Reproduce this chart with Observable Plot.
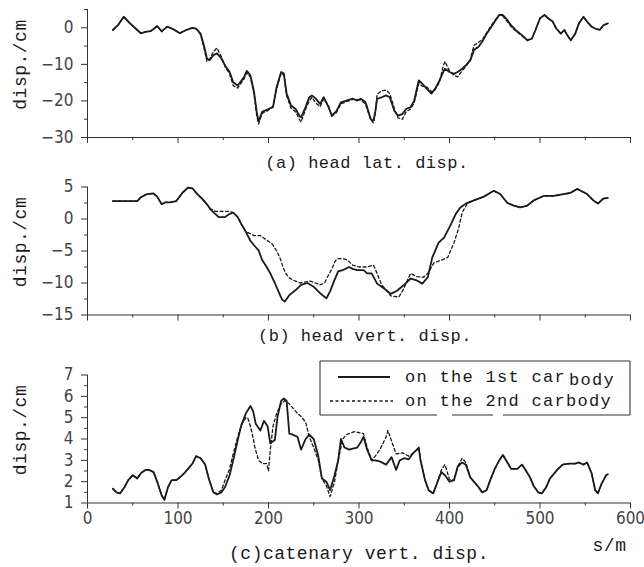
<!DOCTYPE html>
<html><head><meta charset="utf-8">
<script src="https://cdn.jsdelivr.net/npm/d3@7"></script>
<script src="https://cdn.jsdelivr.net/npm/@observablehq/plot@0.6"></script>
<style>
body{margin:0;background:#fff;}
#wrap{position:relative;width:644px;height:567px;overflow:hidden;background:#fff;}
#wrap > svg{position:absolute;left:0;}
[font-family*="Liberation Mono"]{letter-spacing:0.5px;}
</style></head><body><div id="wrap"></div>
<script>
// ---------- data ----------
const seriesNames = ["on the 1st carbody", "on the 2nd carbody"];
const captions = ["(a) head lat. disp.", "(b) head vert. disp.", "(c)catenary vert. disp."];
const yTitle = "disp./cm";
const xTitle = "s/m";
const xDomain = [0, 600];
const xMajor = [0, 100, 200, 300, 400, 500, 600];
const xMinor = [50, 150, 250, 350, 450, 550];

const aDomain = [-30, 5];
const aMajor = [-30, -20, -10, 0];
const aMinor = [-25, -15, -5, 5];
const bDomain = [-15, 5];
const bMajor = [-15, -10, -5, 0, 5];
const bMinor = [-12.5, -7.5, -2.5, 2.5];
const cDomain = [1, 7];
const cMajor = [1, 2, 3, 4, 5, 6, 7];
const cMinor = [1.5, 2.5, 3.5, 4.5, 5.5, 6.5];

// (a) head lateral displacement [s, cm]
const headLat1 = [[28,-0.6],[34,0.8],[40,3],[47,1.2],[55,-0.6],[59,-1.5],[64,-1.1],[70,-0.9],[77,0.5],[82,-1.0],[88,0.3],[95,-0.4],[102,-1.5],[109,-0.6],[116,0],[120,-0.2],[125,-1.6],[129,-5.2],[132,-8.4],[135,-8.9],[139,-7.5],[143,-7],[148,-8.4],[152,-10.3],[157,-12],[161,-14.9],[166,-15.8],[173,-13.5],[176,-11.8],[180,-13],[184,-17.5],[187,-23],[189,-25.6],[193,-23],[200,-22.2],[205,-21.7],[209,-16.2],[214,-12.1],[217,-12.5],[220,-18],[225,-21.3],[230,-22.2],[234,-24],[236,-24.5],[241,-21.7],[245,-19],[248,-18.5],[252,-19.3],[257,-20.8],[261,-19],[266,-21.5],[270,-24],[275,-22.8],[280,-20.4],[286,-19.9],[293,-19.4],[298,-19.9],[302,-19.4],[307,-20.3],[309,-21.7],[313,-25],[316,-25.4],[318,-23],[320,-19.4],[325,-19],[330,-18.5],[334,-19],[339,-22.7],[343,-24],[348,-23.6],[352,-22.2],[357,-21.7],[361,-19.9],[366,-14.4],[370,-15.3],[375,-16.7],[380,-18],[384,-16.7],[389,-14.4],[393,-12.1],[395,-11.2],[400,-12.1],[405,-12.6],[409,-12.1],[414,-11.2],[418,-10.3],[423,-8.9],[427,-6.1],[432,-5.2],[436,-3.9],[441,-1.6],[445,-0.2],[450,1.7],[455,3.5],[459,3.5],[464,2.1],[468,0.7],[473,-0.6],[480,-2],[486,-3.4],[491,-3],[495,-0.6],[500,2.6],[505,3.5],[509,2.6],[514,1.7],[518,-0.2],[523,-1.6],[527,-0.6],[530,-2],[534,-3.4],[539,-1.6],[543,1.2],[548,3],[552,1.7],[557,0.3],[561,-0.2],[566,-0.6],[570,0.7],[575,1.2]];
const headLat2 = [[28,-0.6],[34,0.8],[40,3],[47,1.2],[55,-0.6],[59,-1.5],[64,-1.1],[70,-0.9],[77,0.5],[82,-1.0],[88,0.3],[95,-0.4],[102,-1.5],[109,-0.6],[116,0],[120,-0.2],[125,-1.9],[129,-5.8],[132,-9.2],[135,-8.6],[139,-6.6],[143,-5.5],[148,-8.0],[152,-10.6],[157,-12.6],[161,-15.8],[166,-16.5],[173,-14.0],[176,-12.3],[180,-13.5],[184,-18.0],[187,-24.0],[189,-26.3],[193,-23.4],[200,-22.5],[205,-21.4],[209,-16.6],[214,-12.4],[217,-13.0],[220,-18.6],[225,-22.0],[230,-23.0],[234,-25.0],[236,-25.8],[241,-22.3],[245,-20.0],[248,-19.0],[252,-20.5],[257,-21.6],[261,-19.4],[266,-21.2],[270,-24.2],[275,-23.2],[280,-20.8],[286,-20.2],[293,-19.6],[298,-19.6],[302,-19.8],[307,-20.8],[309,-22.2],[313,-25.2],[316,-26.0],[318,-23.5],[320,-18.2],[325,-17.2],[330,-17.0],[334,-18.0],[339,-22.0],[343,-24.6],[348,-25.0],[352,-23.0],[357,-22.2],[361,-20.5],[366,-15.2],[370,-16.0],[375,-16.2],[380,-17.5],[384,-17.0],[389,-14.8],[393,-10.5],[395,-9.2],[400,-11.8],[405,-13.0],[409,-13.4],[414,-11.8],[418,-10.6],[423,-8.6],[427,-4.8],[432,-4.0],[436,-3.3],[441,-1.4],[445,0.2],[450,2.0],[455,3.6],[459,3.2],[464,1.6],[468,0.3],[473,-0.8],[480,-2.2],[486,-3.5],[491,-3],[495,-0.6],[500,2.6],[505,3.5],[509,2.6],[514,1.7],[518,-0.2],[523,-1.6],[527,-0.6],[530,-2],[534,-3.4],[539,-1.6],[543,1.2],[548,3],[552,1.7],[557,0.3],[561,-0.2],[566,-0.6],[570,0.7],[575,1.2]];

// (b) head vertical displacement [s, cm]
const headVert1 = [[28,2.8],[40,2.8],[55,2.8],[59,3.4],[66,3.9],[73,4.0],[77,3.5],[82,2.3],[86,2.6],[91,2.6],[98,2.8],[105,4.1],[111,4.9],[116,4.8],[120,4.1],[127,3.1],[132,2.3],[136,1.5],[141,0.8],[145,0.3],[152,0.3],[157,0.8],[161,1.0],[166,0.3],[170,-0.8],[175,-2],[180,-3.4],[184,-4.1],[189,-4.9],[193,-6.4],[198,-7.5],[202,-8.5],[207,-10],[211,-11.3],[215,-12.6],[218,-12.9],[223,-11.9],[230,-11.1],[236,-10.3],[243,-10],[250,-10.6],[257,-11.6],[264,-12.4],[268,-11.3],[273,-9.5],[277,-8.2],[282,-8.0],[289,-7.5],[293,-7.8],[298,-8],[305,-8],[309,-8.5],[314,-8.5],[320,-10.1],[325,-10.6],[330,-11.1],[335,-11.7],[342,-11.2],[349,-10.4],[357,-9.3],[364,-9.6],[370,-10.1],[376,-9.1],[381,-6],[388,-3.7],[394,-2.9],[401,-1.0],[407,0.8],[412,1.8],[418,2.4],[427,2.9],[438,3.5],[449,4.4],[456,3.9],[464,2.5],[471,2.1],[478,1.8],[486,2.1],[493,2.9],[504,3.6],[515,3.6],[523,3.8],[534,4.1],[541,4.7],[552,3.9],[559,2.9],[564,2.4],[570,3.2],[575,3.3]];
const headVert2 = [[28,2.8],[40,2.8],[55,2.8],[59,3.4],[66,3.9],[73,4.0],[77,3.5],[82,2.3],[86,2.6],[91,2.6],[98,2.8],[105,4.1],[111,4.9],[116,4.8],[120,4.1],[127,3.1],[132,2.3],[136,1.6],[141,1.2],[145,1.2],[152,1.2],[157,1.2],[161,1.0],[166,0.3],[170,-0.8],[175,-2.0],[180,-2.3],[184,-2.6],[191,-2.6],[198,-3.3],[204,-3.9],[209,-5.0],[213,-6.2],[216,-7.5],[219,-8.5],[223,-9.2],[228,-9.6],[235,-10],[246,-9.7],[252,-10.0],[257,-10.3],[262,-10.0],[265,-9.1],[270,-7.8],[274,-6.5],[277,-6.2],[282,-6.2],[287,-6.4],[293,-7.2],[300,-7.5],[309,-7.5],[316,-7.2],[320,-8.5],[325,-10.3],[330,-11.1],[335,-12.0],[344,-12.2],[349,-11.0],[357,-8.5],[364,-9.0],[371,-9.1],[376,-8.5],[383,-6.8],[390,-6.5],[398,-6.0],[405,-3.7],[410,-1.5],[414,1.0],[420,2.5],[427,2.9],[438,3.5],[449,4.4],[456,3.9],[464,2.5],[471,2.1],[478,1.8],[486,2.1],[493,2.9],[504,3.6],[515,3.6],[523,3.8],[534,4.1],[541,4.7],[552,3.9],[559,2.9],[564,2.4],[570,3.2],[575,3.3]];

// (c) catenary vertical displacement [s, cm]
const caten1 = [[28,1.67],[32,1.5],[36,1.45],[41,1.75],[45,2.07],[50,2.3],[55,2.15],[59,2.4],[64,2.55],[68,2.55],[73,2.45],[77,2.0],[82,1.35],[85,1.15],[89,1.75],[93,2.07],[98,2.07],[102,2.2],[107,2.4],[111,2.6],[116,2.85],[120,3.2],[125,3.1],[130,2.8],[134,2.15],[139,1.5],[143,1.4],[148,1.5],[152,1.75],[157,2.3],[161,3.0],[166,3.95],[170,4.65],[175,5.2],[180,5.55],[183,5.3],[186,4.7],[191,4.4],[195,4.85],[199,4.6],[202,3.8],[207,3.95],[210,5.05],[214,5.8],[217,5.9],[220,5.8],[223,4.25],[227,4.2],[232,4.1],[236,3.5],[241,4.0],[245,4.2],[250,4.0],[255,3.2],[259,2.15],[264,2.0],[268,1.6],[273,2.3],[277,3.0],[280,4.0],[284,3.6],[289,3.5],[293,3.55],[298,3.6],[302,3.85],[305,4.1],[309,3.5],[314,3.0],[318,3.0],[323,2.95],[330,2.8],[336,3.15],[341,2.55],[345,3.0],[350,3.1],[355,3.05],[359,3.3],[364,3.5],[366,3.6],[368,3.0],[373,2.07],[377,1.6],[382,1.45],[386,1.9],[391,2.45],[395,2.3],[400,2.0],[405,2.07],[409,2.7],[414,2.9],[418,2.8],[423,2.2],[427,2.0],[432,1.75],[436,1.5],[441,1.6],[445,2.07],[450,2.6],[455,3.0],[459,3.25],[464,2.9],[468,2.6],[475,2.6],[480,2.8],[484,2.55],[489,2.2],[493,1.8],[498,1.5],[502,1.45],[507,1.75],[511,2.15],[516,2.4],[520,2.6],[525,2.8],[532,2.85],[539,2.85],[543,2.9],[548,2.8],[552,2.9],[557,2.4],[561,1.6],[564,1.45],[568,1.9],[573,2.3],[575,2.35]];
const caten2 = [[28,1.67],[32,1.5],[36,1.45],[41,1.75],[45,2.07],[50,2.3],[55,2.15],[59,2.4],[64,2.55],[68,2.55],[73,2.45],[77,2.0],[82,1.35],[85,1.15],[89,1.75],[93,2.07],[98,2.07],[102,2.2],[107,2.4],[111,2.6],[116,2.85],[120,3.2],[125,3.1],[130,2.8],[134,2.15],[139,1.5],[143,1.45],[148,1.6],[152,2.07],[157,2.6],[161,3.3],[166,4.1],[170,4.65],[175,5.0],[177,5.0],[180,4.6],[182,4.25],[185,3.6],[189,3.0],[193,2.85],[198,2.85],[200,2.5],[202,3.5],[205,4.6],[209,5.2],[214,5.65],[218,5.8],[223,5.65],[227,5.45],[232,5.2],[236,5.05],[241,4.8],[245,4.1],[250,3.6],[255,3.0],[259,2.15],[264,1.8],[268,1.3],[273,2.0],[277,3.0],[282,4.0],[286,4.2],[295,4.35],[305,4.25],[309,3.6],[314,3.0],[318,3.2],[323,3.5],[330,4.1],[332,4.4],[336,3.9],[341,3.3],[348,3.35],[355,3.2],[359,3.3],[364,3.5],[366,3.6],[368,3.0],[373,2.07],[377,1.6],[382,1.45],[386,1.9],[391,2.55],[395,2.8],[400,2.1],[405,2.07],[409,2.7],[414,3.1],[418,2.9],[423,2.2],[427,2.0],[432,1.75],[436,1.5],[441,1.6],[445,2.07],[450,2.6],[455,3.0],[459,3.25],[464,2.9],[468,2.6],[475,2.6],[480,2.8],[484,2.55],[489,2.2],[493,1.8],[498,1.5],[502,1.45],[507,1.75],[511,2.15],[516,2.4],[520,2.6],[525,2.8],[532,2.85],[539,2.85],[543,2.9],[548,2.8],[552,2.9],[557,2.4],[561,1.6],[564,1.45],[568,1.9],[573,2.3],[575,2.35]];

// ---------- drawing ----------
const MONO = "Liberation Mono, DejaVu Sans Mono, monospace";
const SANS = "Liberation Sans Narrow, DejaVu Sans Condensed, Arial Narrow, sans-serif";
const INK = "#1a1a1a";
const AX = "#333";

function panel(o) {
  const marks = [
    Plot.ruleY([o.yDomain[0]], {stroke: AX, strokeWidth: 1}),
    Plot.ruleX([xDomain[0]], {stroke: AX, strokeWidth: 1}),
    Plot.axisY(o.yMajor, {tickSize: 6, tickPadding: 8, stroke: AX, fill: "#444", fontSize: 17}),
    Plot.axisY(o.yMinor, {tickSize: 3, tickFormat: () => "", stroke: AX}),
    Plot.axisX(xMajor, {tickSize: 6, tickPadding: 3, stroke: AX, fill: "#444", fontSize: 17,
      tickFormat: o.showX ? (d => d) : (() => "")}),
    Plot.axisX(xMinor, {tickSize: 3, tickFormat: () => "", stroke: AX}),
    Plot.line(o.s2, {x: d => d[0], y: d => d[1], stroke: INK, strokeWidth: 1.3, strokeDasharray: "3,2.5", curve: "linear"}),
    Plot.line(o.s1, {x: d => d[0], y: d => d[1], stroke: INK, strokeWidth: 1.8, curve: "linear"}),
    Plot.text([o.caption], {frameAnchor: "bottom", dx: o.capDx, dy: o.capDy, text: d => d, textAnchor: "middle",
      lineAnchor: "middle", fontFamily: MONO, fontSize: o.capSize, fill: INK}),
    Plot.text([yTitle], {frameAnchor: "left", rotate: -90, dx: -67, dy: -9, text: d => d,
      textAnchor: "middle", lineAnchor: "middle", fontFamily: MONO, fontSize: 18, fill: INK})
  ];
  if (o.extra) marks.push(...o.extra);
  const svg = Plot.plot({
    width: 644,
    height: o.height,
    marginLeft: 87,
    marginRight: 14,
    marginTop: o.mt,
    marginBottom: o.height - o.mt - 128,
    x: {domain: xDomain},
    y: {domain: o.yDomain},
    style: {fontFamily: SANS, fontSize: "17px", background: "transparent", color: INK, overflow: "visible"},
    marks
  });
  svg.style.top = o.top + "px";
  return svg;
}

const wrap = document.getElementById("wrap");
wrap.append(panel({s1: headLat1, s2: headLat2, yDomain: aDomain, yMajor: aMajor, yMinor: aMinor,
  caption: captions[0], top: 0, mt: 9, height: 178, capDx: 8, capDy: 25, capSize: 17, showX: false}));
wrap.append(panel({s1: headVert1, s2: headVert2, yDomain: bDomain, yMajor: bMajor, yMinor: bMinor,
  caption: captions[1], top: 178, mt: 8.5, height: 178, capDx: 6, capDy: 21, capSize: 17, showX: false}));
wrap.append(panel({s1: caten1, s2: caten2, yDomain: cDomain, yMajor: cMajor, yMinor: cMinor,
  caption: captions[2], top: 356, mt: 18.5, height: 211, capDx: 0, capDy: 50, capSize: 18, showX: true,
  extra: [Plot.text([xTitle], {frameAnchor: "bottom-right", dx: -21, dy: 42, text: d => d,
    textAnchor: "middle", lineAnchor: "middle", fontFamily: MONO, fontSize: 18, fill: INK})]}));

// ---------- legend (panel c) ----------
const lg = d3.select(wrap).append("svg")
  .attr("width", 644).attr("height", 567)
  .style("top", "0px").style("pointer-events", "none");
const bx0 = 320, bx1 = 630, by0 = 361, by1 = 415;
lg.append("rect").attr("x", bx0).attr("y", by0).attr("width", bx1 - bx0).attr("height", by1 - by0 - 2)
  .attr("fill", "#fff");
const edge = (x1, y1, x2, y2) => lg.append("line").attr("x1", x1).attr("y1", y1).attr("x2", x2).attr("y2", y2)
  .attr("stroke", AX).attr("stroke-width", 1.1);
edge(bx0, by0, bx1, by0);
edge(bx0, by0, bx0, by1);
edge(bx1, by0, bx1, by1);
[[bx0, 437], [452, 493], [503, bx1]].forEach(([a, b]) => edge(a, by1, b, by1));
const rows = [
  {y: 377, dash: null, x0: 338, x1: 390},
  {y: 401, dash: "3,2.5", x0: 330, x1: 393}
];
seriesNames.forEach((name, i) => {
  const r = rows[i];
  lg.append("line").attr("x1", r.x0).attr("x2", r.x1).attr("y1", r.y).attr("y2", r.y)
    .attr("stroke", INK).attr("stroke-width", i === 0 ? 1.8 : 1.3)
    .attr("stroke-dasharray", r.dash);
  const t = lg.append("text").attr("x", 405).attr("y", r.y + 5)
    .attr("font-family", MONO).attr("font-size", 17).attr("fill", INK)
    .style("letter-spacing", "1.3px");
  if (i === 0) {
    t.append("tspan").text(name.slice(0, -4));
    t.append("tspan").attr("dy", 3).attr("dx", 3).text("body");
  } else {
    t.text(name);
  }
});
</script></body></html>
